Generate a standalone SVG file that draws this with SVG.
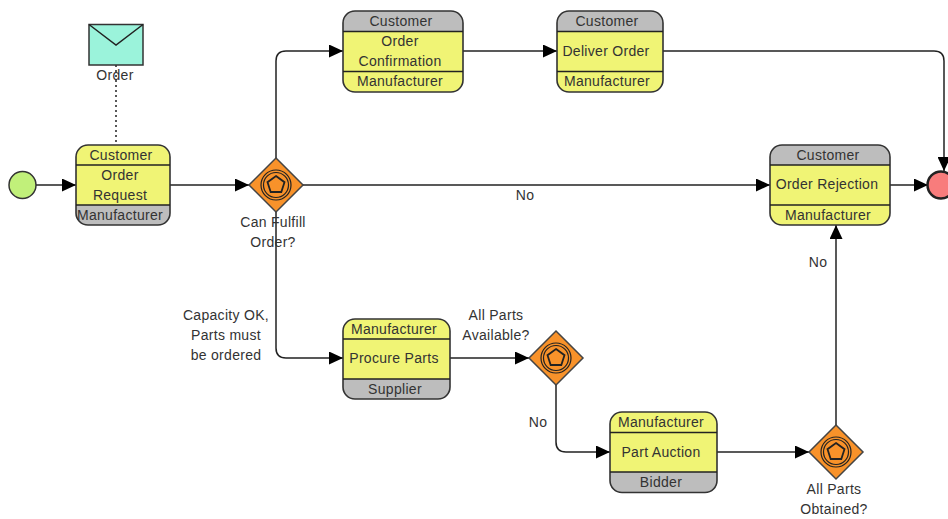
<svg xmlns="http://www.w3.org/2000/svg" width="948" height="519" viewBox="0 0 948 519">
<style>
text{font-family:"Liberation Sans",Arial,sans-serif;font-size:14px;letter-spacing:.3px;fill:#333;text-anchor:middle}
.o{fill:none;stroke:#333;stroke-width:1.6}
.y{fill:#f0f475}.g{fill:#bdbdbd}
.l{stroke:#222;stroke-width:1.5;fill:none}
.c{fill:none;stroke:#222;stroke-width:1.5;marker-end:url(#a)}
.d{fill:#f8922a;stroke:#444;stroke-width:1.5}
.i{fill:none;stroke:#222;stroke-width:1.2}
.p{fill:none;stroke:#222;stroke-width:1.8}
</style>
<defs>
<marker id="a" markerUnits="userSpaceOnUse" markerWidth="15" markerHeight="13" refX="14" refY="6.5" orient="auto"><path d="M0 0L14 6.5L0 13z" fill="#000"/></marker>
<g id="gw">
<path class="d" d="M0-27L27 0L0 27L-27 0z"/>
<circle class="i" r="15"/><circle class="i" r="12.500"/>
<path class="p" d="M0-9L8.500-2.800L5.300 7L-5.300 7L-8.500-2.800z"/>
</g>
</defs>
<g id="connectors">
<path class="l" stroke-dasharray="2 3" d="M116 65V145"/>
<path class="c" d="M36 185H76"/>
<path class="c" d="M170 185H249"/>
<path class="c" d="M276 158V61Q276 51 286 51H343"/>
<path class="c" d="M463 51H557"/>
<path class="c" d="M663 51H934Q944 51 944 61V171"/>
<path class="c" d="M303 185H770"/>
<path class="c" d="M890 185H928"/>
<path class="c" d="M276 212V348Q276 358 286 358H343"/>
<path class="c" d="M450 358H529"/>
<path class="c" d="M556 385V442Q556 452 566 452H610"/>
<path class="c" d="M717 452H809"/>
<path class="c" d="M836 425V225"/>
</g>
<g id="start"><circle cx="22.500" cy="185" r="13.500" fill="#c1f07a" stroke="#333" stroke-width="1.500"/></g>
<g id="end"><circle cx="941" cy="185" r="13.500" fill="#f87c7c" stroke="#222" stroke-width="2.500"/></g>
<g id="order-msg">
<rect x="89" y="24.500" width="54" height="40.500" fill="#9bf3db" stroke="#333" stroke-width="1.500"/>
<path class="l" d="M89 24.500L116 45L143 24.500"/>
<text x="115" y="80">Order</text>
</g>
<g id="order-request">
<rect class="y" x="76" y="145" width="94" height="80" rx="12"/>
<path class="g" d="M76 205H170V213Q170 225 158 225H88Q76 225 76 213z"/>
<rect class="o" x="76" y="145" width="94" height="80" rx="12"/>
<path class="l" d="M76 165H170M76 205H170"/>
<text x="121" y="160">Customer</text><text x="120" y="180">Order</text><text x="120" y="200">Request</text><text x="120" y="220">Manufacturer</text>
</g>
<g id="order-confirmation">
<rect class="y" x="343" y="11" width="120" height="81" rx="12"/>
<path class="g" d="M343 31.500H463V23Q463 11 451 11H355Q343 11 343 23z"/>
<rect class="o" x="343" y="11" width="120" height="81" rx="12"/>
<path class="l" d="M343 31.500H463M343 71.500H463"/>
<text x="401" y="26">Customer</text><text x="400" y="46">Order</text><text x="400" y="66">Confirmation</text><text x="400" y="86">Manufacturer</text>
</g>
<g id="deliver-order">
<rect class="y" x="557" y="11" width="106" height="81" rx="12"/>
<path class="g" d="M557 31.500H663V23Q663 11 651 11H569Q557 11 557 23z"/>
<rect class="o" x="557" y="11" width="106" height="81" rx="12"/>
<path class="l" d="M557 31.500H663M557 71.500H663"/>
<text x="607" y="26">Customer</text><text x="606" y="56">Deliver Order</text><text x="607" y="86">Manufacturer</text>
</g>
<g id="order-rejection">
<rect class="y" x="770" y="145" width="120" height="80" rx="12"/>
<path class="g" d="M770 165H890V157Q890 145 878 145H782Q770 145 770 157z"/>
<rect class="o" x="770" y="145" width="120" height="80" rx="12"/>
<path class="l" d="M770 165H890M770 205H890"/>
<text x="828" y="160">Customer</text><text x="827" y="189">Order Rejection</text><text x="828" y="220">Manufacturer</text>
</g>
<g id="procure-parts">
<rect class="y" x="343" y="319" width="107" height="80" rx="12"/>
<path class="g" d="M343 379H450V387Q450 399 438 399H355Q343 399 343 387z"/>
<rect class="o" x="343" y="319" width="107" height="80" rx="12"/>
<path class="l" d="M343 339H450M343 379H450"/>
<text x="394" y="334">Manufacturer</text><text x="394" y="363">Procure Parts</text><text x="395" y="394">Supplier</text>
</g>
<g id="part-auction">
<rect class="y" x="610" y="412" width="107" height="80.500" rx="12"/>
<path class="g" d="M610 472H717V480.500Q717 492.500 705 492.500H622Q610 492.500 610 480.500z"/>
<rect class="o" x="610" y="412" width="107" height="80.500" rx="12"/>
<path class="l" d="M610 432.500H717M610 472H717"/>
<text x="661" y="427">Manufacturer</text><text x="661" y="457">Part Auction</text><text x="661" y="487">Bidder</text>
</g>
<g id="gateway-fulfill"><use href="#gw" x="276" y="185"/><text x="273" y="227">Can Fulfill</text><text x="273" y="247">Order?</text></g>
<g id="gateway-available"><use href="#gw" x="556" y="358"/><text x="496" y="320">All Parts</text><text x="496" y="340">Available?</text></g>
<g id="gateway-obtained"><use href="#gw" x="836" y="452"/><text x="834" y="494">All Parts</text><text x="834" y="514">Obtained?</text></g>
<g id="labels">
<text x="525" y="200">No</text>
<text x="226" y="320">Capacity OK,</text><text x="226" y="340">Parts must</text><text x="226" y="360">be ordered</text>
<text x="538" y="427">No</text>
<text x="818" y="267">No</text>
</g>
</svg>
